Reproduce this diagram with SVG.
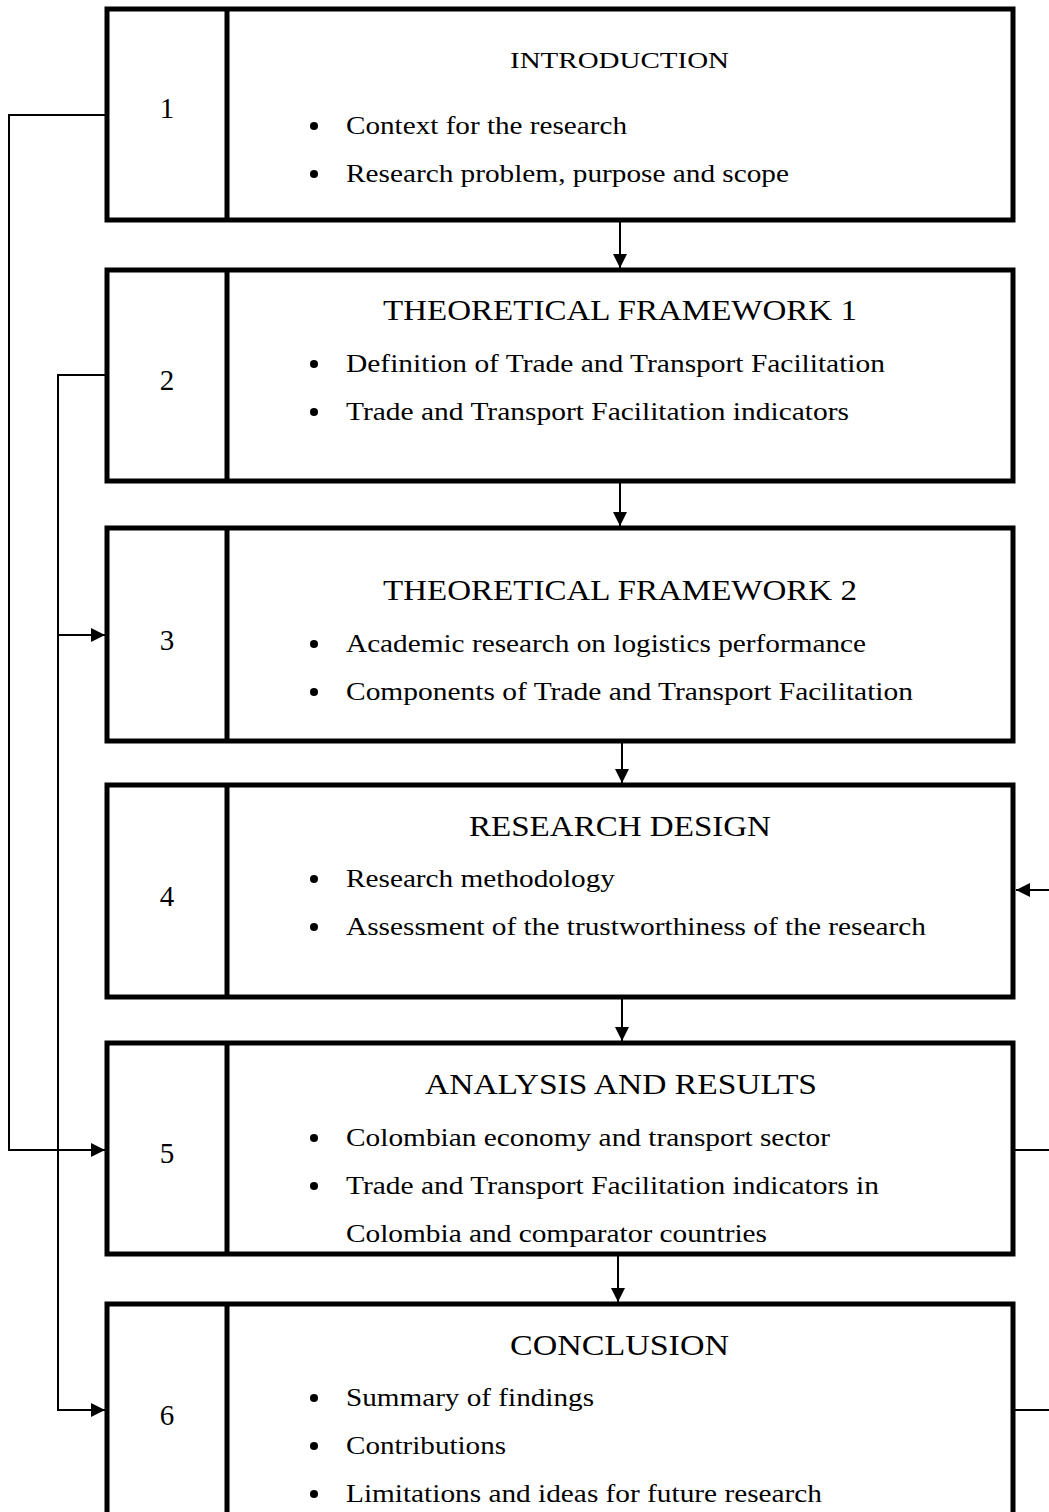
<svg xmlns="http://www.w3.org/2000/svg" width="1049" height="1512" viewBox="0 0 1049 1512">
<style>
.box{fill:#fff;stroke:#000;stroke-width:5}
.div{stroke:#000;stroke-width:5}
.c{fill:none;stroke:#000;stroke-width:2}
text{font-family:"Liberation Serif","DejaVu Serif",serif;fill:#000}
.t{font-size:29px}
.ts{font-size:24px}
.n{font-size:29px;text-anchor:middle}
.b{font-size:26px}
</style>
<defs>
<marker id="ahs" markerWidth="14" markerHeight="14" refX="14" refY="7" orient="auto" markerUnits="userSpaceOnUse" viewBox="0 0 14 14">
<path d="M0,0 L14,7 L0,14 z" fill="#000"/>
</marker>
</defs>
<g id="connectors">
<path class="c" d="M107,115 H9 V1150 H105" marker-end="url(#ahs)"/>
<path class="c" d="M107,375 H58 V1410 H105" marker-end="url(#ahs)"/>
<path class="c" d="M58,635 H105" marker-end="url(#ahs)"/>
<path class="c" d="M620,222 V268" marker-end="url(#ahs)"/>
<path class="c" d="M620,483 V526" marker-end="url(#ahs)"/>
<path class="c" d="M622,743 V783" marker-end="url(#ahs)"/>
<path class="c" d="M622,999 V1041" marker-end="url(#ahs)"/>
<path class="c" d="M618,1256 V1302" marker-end="url(#ahs)"/>
<path class="c" d="M1049,890 H1016" marker-end="url(#ahs)"/>
<path class="c" d="M1015,1150 H1049"/>
<path class="c" d="M1015,1410 H1049"/>
</g>
<g id="node1">
<rect class="box" x="107" y="9" width="906" height="211"/>
<line class="div" x1="227" y1="9" x2="227" y2="220"/>
<text class="n" x="167" y="118">1</text>
<text class="ts" x="510" y="68" textLength="219" lengthAdjust="spacingAndGlyphs">INTRODUCTION</text>
<circle cx="314" cy="126" r="4"/><text class="b" x="346" y="134" textLength="281" lengthAdjust="spacingAndGlyphs">Context for the research</text>
<circle cx="314" cy="174" r="4"/><text class="b" x="346" y="182" textLength="443" lengthAdjust="spacingAndGlyphs">Research problem, purpose and scope</text>
</g>
<g id="node2">
<rect class="box" x="107" y="270" width="906" height="211"/>
<line class="div" x1="227" y1="270" x2="227" y2="481"/>
<text class="n" x="167" y="390">2</text>
<text class="t" x="383" y="320" textLength="474" lengthAdjust="spacingAndGlyphs">THEORETICAL FRAMEWORK 1</text>
<circle cx="314" cy="364" r="4"/><text class="b" x="346" y="372" textLength="539" lengthAdjust="spacingAndGlyphs">Definition of Trade and Transport Facilitation</text>
<circle cx="314" cy="412" r="4"/><text class="b" x="346" y="420" textLength="503" lengthAdjust="spacingAndGlyphs">Trade and Transport Facilitation indicators</text>
</g>
<g id="node3">
<rect class="box" x="107" y="528" width="906" height="213"/>
<line class="div" x1="227" y1="528" x2="227" y2="741"/>
<text class="n" x="167" y="650">3</text>
<text class="t" x="383" y="600" textLength="474" lengthAdjust="spacingAndGlyphs">THEORETICAL FRAMEWORK 2</text>
<circle cx="314" cy="644" r="4"/><text class="b" x="346" y="652" textLength="520" lengthAdjust="spacingAndGlyphs">Academic research on logistics performance</text>
<circle cx="314" cy="692" r="4"/><text class="b" x="346" y="700" textLength="567" lengthAdjust="spacingAndGlyphs">Components of Trade and Transport Facilitation</text>
</g>
<g id="node4">
<rect class="box" x="107" y="785" width="906" height="212"/>
<line class="div" x1="227" y1="785" x2="227" y2="997"/>
<text class="n" x="167" y="906">4</text>
<text class="t" x="469" y="836" textLength="302" lengthAdjust="spacingAndGlyphs">RESEARCH DESIGN</text>
<circle cx="314" cy="879" r="4"/><text class="b" x="346" y="887" textLength="269" lengthAdjust="spacingAndGlyphs">Research methodology</text>
<circle cx="314" cy="927" r="4"/><text class="b" x="346" y="935" textLength="580" lengthAdjust="spacingAndGlyphs">Assessment of the trustworthiness of the research</text>
</g>
<g id="node5">
<rect class="box" x="107" y="1043" width="906" height="211"/>
<line class="div" x1="227" y1="1043" x2="227" y2="1254"/>
<text class="n" x="167" y="1163">5</text>
<text class="t" x="425" y="1094" textLength="392" lengthAdjust="spacingAndGlyphs">ANALYSIS AND RESULTS</text>
<circle cx="314" cy="1138" r="4"/><text class="b" x="346" y="1146" textLength="484" lengthAdjust="spacingAndGlyphs">Colombian economy and transport sector</text>
<circle cx="314" cy="1186" r="4"/><text class="b" x="346" y="1194" textLength="533" lengthAdjust="spacingAndGlyphs">Trade and Transport Facilitation indicators in</text>
<text class="b" x="346" y="1242" textLength="421" lengthAdjust="spacingAndGlyphs">Colombia and comparator countries</text>
</g>
<g id="node6">
<rect class="box" x="107" y="1304" width="906" height="220"/>
<line class="div" x1="227" y1="1304" x2="227" y2="1524"/>
<text class="n" x="167" y="1425">6</text>
<text class="t" x="510" y="1355" textLength="219" lengthAdjust="spacingAndGlyphs">CONCLUSION</text>
<circle cx="314" cy="1398" r="4"/><text class="b" x="346" y="1406" textLength="248" lengthAdjust="spacingAndGlyphs">Summary of findings</text>
<circle cx="314" cy="1446" r="4"/><text class="b" x="346" y="1454" textLength="160" lengthAdjust="spacingAndGlyphs">Contributions</text>
<circle cx="314" cy="1494" r="4"/><text class="b" x="346" y="1502" textLength="476" lengthAdjust="spacingAndGlyphs">Limitations and ideas for future research</text>
</g>
</svg>
